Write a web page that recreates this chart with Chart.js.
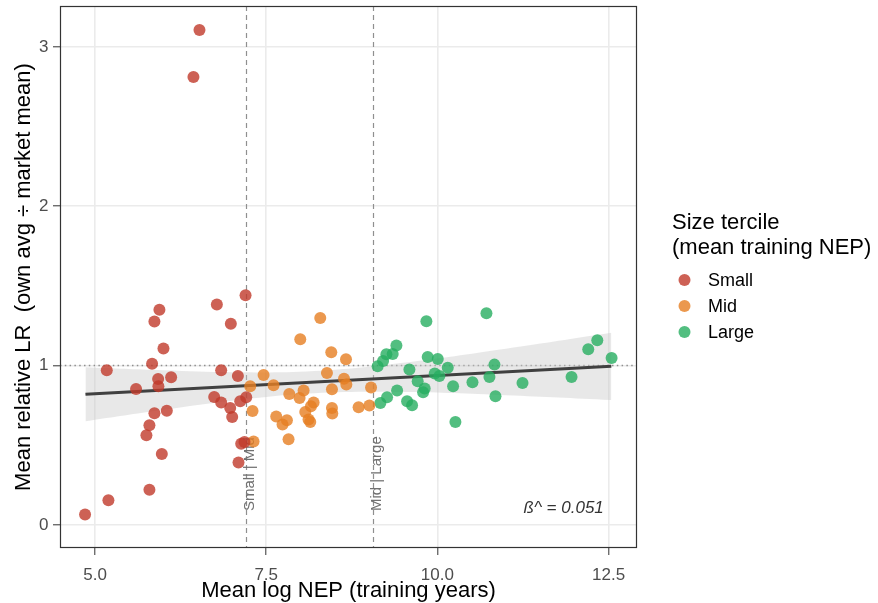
<!DOCTYPE html>
<html>
<head>
<meta charset="utf-8">
<script src="https://cdn.jsdelivr.net/npm/chart.js@4"></script>
<style>
  html, body { margin: 0; padding: 0; background: #fff; }
</style>
</head>
<body>
<canvas id="myChart" width="878" height="603"></canvas>
<script>
'use strict';

// size terciles: mean log NEP (x) vs mean relative LR (y)
let smallX = [4.854, 5.195, 5.794, 5.171, 5.940, 5.867, 5.999, 5.833, 5.599, 5.921, 5.925, 6.111,
  5.867, 6.048, 5.794, 5.750, 5.975, 6.779, 7.198, 6.983, 6.842, 7.086, 6.740, 6.842, 6.974,
  7.003, 7.120, 7.208, 7.134, 7.183, 7.095, 6.525, 6.437];
let smallY = [0.066, 0.154, 0.221, 0.970, 1.351, 1.276, 1.107, 1.012, 0.853, 0.916, 0.870, 0.927,
  0.701, 0.717, 0.625, 0.562, 0.445, 1.383, 1.441, 1.263, 0.970, 0.935, 0.803, 0.768, 0.734,
  0.677, 0.776, 0.801, 0.510, 0.520, 0.391, 3.107, 2.812];

let midX = [8.289, 7.997, 8.450, 8.665, 7.461, 7.266, 7.607, 8.387, 8.636, 8.670, 8.460, 7.836,
  8.046, 7.987, 8.192, 8.153, 8.070, 7.300, 7.646, 7.802, 7.738, 8.118, 8.143, 8.460, 8.465,
  8.849, 7.826, 7.315, 9.031, 9.006];
let midY = [1.299, 1.165, 1.083, 1.040, 0.941, 0.870, 0.876, 0.954, 0.918, 0.881, 0.851, 0.822,
  0.843, 0.797, 0.768, 0.745, 0.709, 0.715, 0.680, 0.657, 0.630, 0.661, 0.646, 0.734, 0.699,
  0.738, 0.537, 0.523, 0.862, 0.749];

let largeX = [10.716, 9.839, 9.401, 9.255, 9.347, 9.206, 9.127, 9.858, 10.005, 10.151, 9.591, 9.961,
  10.029, 9.712, 9.814, 9.791, 9.411, 9.265, 9.167, 9.557, 9.630, 10.229, 10.512, 10.760, 10.833,
  10.848, 10.263, 11.243, 11.959, 12.203, 12.335, 12.544];
let largeY = [1.328, 1.278, 1.126, 1.071, 1.073, 1.029, 0.996, 1.054, 1.041, 0.987, 0.975, 0.950,
  0.935, 0.901, 0.856, 0.832, 0.843, 0.801, 0.765, 0.776, 0.751, 0.870, 0.895, 0.929, 1.006,
  0.807, 0.646, 0.891, 0.929, 1.102, 1.159, 1.048];

// fitted line and its band
let fitX = [4.86, 12.54];
let fitY = [0.820, 0.996];
let bandX = [4.86, 6.0, 7.0, 8.2, 9.5, 11.0, 12.54];
let bandLow = [0.651, 0.723, 0.780, 0.826, 0.834, 0.814, 0.784];
let bandHigh = [0.989, 0.970, 0.958, 0.966, 1.018, 1.106, 1.206];

let cutX = [7.21, 9.065];
let cutLabels = ['Small | Mid', 'Mid | Large'];
let refY = 1;

let xTicks = [5, 7.5, 10, 12.5];
let xTickLabels = ['5.0', '7.5', '10.0', '12.5'];
let yTicks = [0, 1, 2, 3];
let yTickLabels = ['0', '1', '2', '3'];

let groupNames = ['Small', 'Mid', 'Large'];
let groupColors = ['rgba(192, 57, 43, 0.8)', 'rgba(230, 126, 34, 0.8)', 'rgba(39, 174, 96, 0.8)'];

const FONT = '"Liberation Sans", Arial, Helvetica, sans-serif';

function toPoints(xs, ys) {
  return xs.map((v, i) => ({ x: v, y: ys[i] }));
}

function pointSet(name, xs, ys, color) {
  return {
    label: name,
    data: toPoints(xs, ys),
    backgroundColor: color,
    borderColor: 'rgba(0,0,0,0)',
    borderWidth: 0,
    pointRadius: 6,
    pointHoverRadius: 6
  };
}

const extras = {
  id: 'extras',
  beforeDatasetsDraw(chart) {
    const { ctx, chartArea: a, scales: { x, y } } = chart;
    ctx.save();
    ctx.beginPath();
    ctx.rect(a.left, a.top, a.right - a.left, a.bottom - a.top);
    ctx.clip();

    // dotted reference at 1
    let yp = y.getPixelForValue(refY);
    ctx.strokeStyle = '#8f8f8f';
    ctx.lineWidth = 1.5;
    ctx.setLineDash([1.5, 3.3]);
    ctx.beginPath();
    ctx.moveTo(a.left, yp);
    ctx.lineTo(a.right, yp);
    ctx.stroke();

    // tercile cut lines
    ctx.setLineDash([5, 4]);
    ctx.lineWidth = 1.2;
    ctx.strokeStyle = '#8f8f8f';
    cutX.forEach(v => {
      let xp = Math.round(x.getPixelForValue(v)) + 0.5;
      ctx.beginPath();
      ctx.moveTo(xp, a.top);
      ctx.lineTo(xp, a.bottom);
      ctx.stroke();
    });
    ctx.setLineDash([]);

    ctx.fillStyle = '#707070';
    ctx.font = '15px ' + FONT;
    ctx.textAlign = 'left';
    ctx.textBaseline = 'middle';
    cutX.forEach((v, i) => {
      ctx.save();
      ctx.translate(x.getPixelForValue(v) + 3.5, y.getPixelForValue(0.087));
      ctx.rotate(-Math.PI / 2);
      ctx.fillText(cutLabels[i], 0, 0);
      ctx.restore();
    });
    ctx.restore();
  },
  afterDraw(chart) {
    const { ctx, chartArea: a, scales: { x, y } } = chart;
    ctx.save();

    // panel border
    ctx.strokeStyle = '#333333';
    ctx.lineWidth = 1.2;
    ctx.strokeRect(a.left + 0.5, a.top + 0.5, a.right - a.left - 1, a.bottom - a.top - 1);

    // slope note
    ctx.fillStyle = '#333333';
    ctx.font = 'italic 17px ' + FONT;
    ctx.textAlign = 'right';
    ctx.textBaseline = 'alphabetic';
    ctx.fillText('ß^ = 0.051', x.getPixelForValue(12.43), y.getPixelForValue(0.073));

    // legend
    ctx.fillStyle = '#000';
    ctx.textAlign = 'left';
    ctx.font = '22px ' + FONT;
    ctx.fillText('Size tercile', 672, 229);
    ctx.fillText('(mean training NEP)', 672, 253.5);
    ctx.font = '18px ' + FONT;
    ctx.textBaseline = 'middle';
    for (let i = 0; i < groupNames.length; i++) {
      let cy = 280 + i * 26;
      ctx.fillStyle = groupColors[i];
      ctx.beginPath();
      ctx.arc(684.5, cy, 6, 0, Math.PI * 2);
      ctx.fill();
      ctx.fillStyle = '#000';
      ctx.fillText(groupNames[i], 708, cy + 1);
    }
    ctx.restore();
  }
};

const config = {
  type: 'scatter',
  data: {
    datasets: [
      pointSet(groupNames[0], smallX, smallY, groupColors[0]),
      pointSet(groupNames[1], midX, midY, groupColors[1]),
      pointSet(groupNames[2], largeX, largeY, groupColors[2]),
      {
        label: 'fit',
        data: toPoints(fitX, fitY),
        showLine: true,
        borderColor: '#404040',
        borderWidth: 3,
        pointRadius: 0,
        fill: false
      },
      {
        label: 'band high',
        data: toPoints(bandX, bandHigh),
        showLine: true,
        borderColor: 'rgba(0,0,0,0)',
        backgroundColor: 'rgba(200, 200, 200, 0.42)',
        pointRadius: 0,
        tension: 0.4,
        fill: '+1'
      },
      {
        label: 'band low',
        data: toPoints(bandX, bandLow),
        showLine: true,
        borderColor: 'rgba(0,0,0,0)',
        pointRadius: 0,
        tension: 0.4,
        fill: false
      }
    ]
  },
  options: {
    responsive: false,
    animation: false,
    events: [],
    layout: { autoPadding: false, padding: { left: 0, right: 241, top: 6, bottom: 0 } },
    plugins: {
      legend: { display: false },
      tooltip: { enabled: false }
    },
    scales: {
      x: {
        type: 'linear',
        min: 4.488,
        max: 12.915,
        afterBuildTicks: s => { s.ticks = xTicks.map(v => ({ value: v })); },
        afterFit: s => { s.height = 55; s.paddingLeft = 0; s.paddingRight = 0; },
        ticks: {
          callback: v => xTickLabels[xTicks.indexOf(v)],
          color: '#4d4d4d',
          font: { size: 17, family: FONT },
          padding: 10.5,
          maxRotation: 0,
          autoSkip: false
        },
        grid: { color: '#ebebeb', lineWidth: 1.6, tickColor: '#333333', tickLength: 7, tickWidth: 1 },
        border: { display: false },
        title: {
          display: true,
          text: 'Mean log NEP (training years)',
          color: '#000',
          font: { size: 22, family: FONT, lineHeight: 1 },
          padding: { top: 0, bottom: 1 }
        }
      },
      y: {
        type: 'linear',
        min: -0.145,
        max: 3.257,
        afterBuildTicks: s => { s.ticks = yTicks.map(v => ({ value: v })); },
        afterFit: s => { s.width = 60; s.paddingTop = 0; s.paddingBottom = 0; },
        ticks: {
          callback: v => yTickLabels[yTicks.indexOf(v)],
          color: '#4d4d4d',
          font: { size: 17, family: FONT },
          padding: 4.5,
          autoSkip: false
        },
        grid: { color: '#ebebeb', lineWidth: 1.6, tickColor: '#333333', tickLength: 7, tickWidth: 1 },
        border: { display: false },
        title: {
          display: true,
          text: 'Mean relative LR  (own avg ÷ market mean)',
          color: '#000',
          font: { size: 22, family: FONT, lineHeight: 1.2 },
          padding: { top: 11, bottom: 0 }
        }
      }
    }
  },
  plugins: [extras]
};

const myChart = new Chart(document.getElementById('myChart'), config);
</script>
</body>
</html>
